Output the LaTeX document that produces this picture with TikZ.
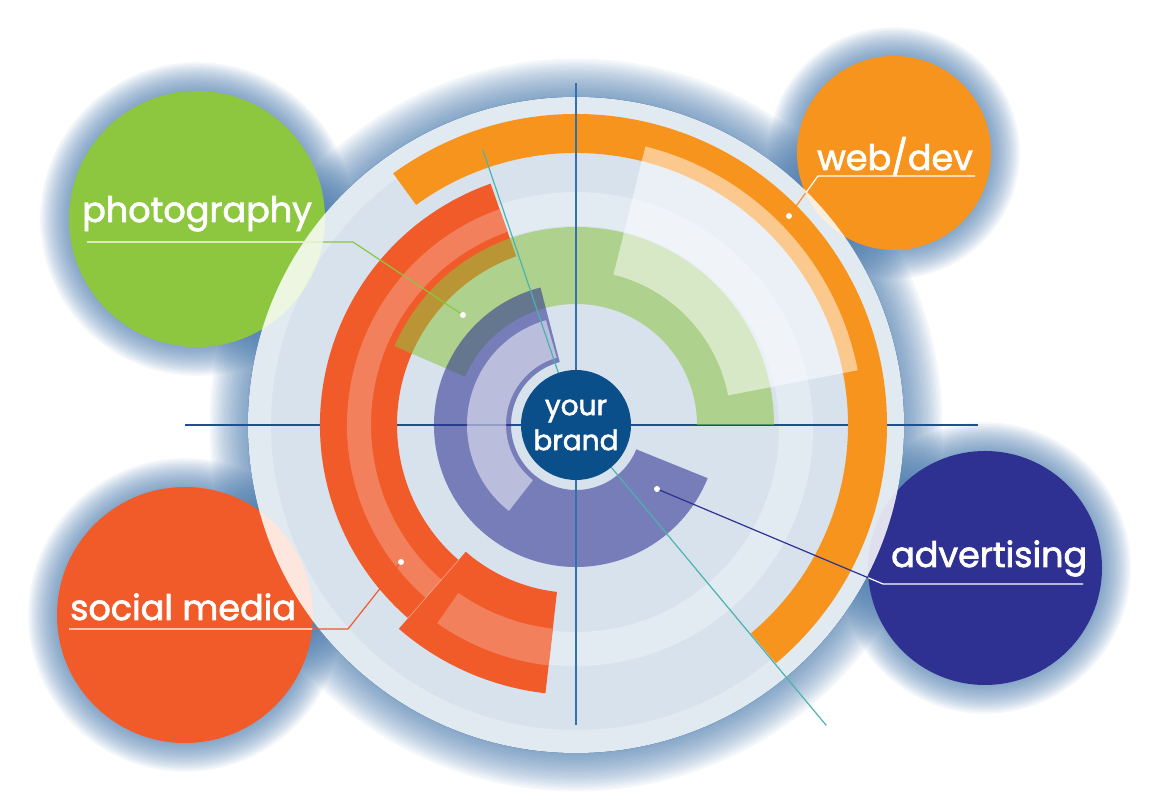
\documentclass[tikz,border=0pt]{standalone}
\usepackage{fontspec}
\setmainfont{Poppins}[BoldFont=Poppins, BoldFeatures={FakeBold=2}]
\usetikzlibrary{calc}

\definecolor{photoc}{HTML}{8DC63F}
\definecolor{webc}{HTML}{F7941D}
\definecolor{adc}{HTML}{2E3192}
\definecolor{socialc}{HTML}{F15A29}
\definecolor{salmonc}{HTML}{F3805C}
\definecolor{brandc}{HTML}{0B4F8A}
\definecolor{glowc}{HTML}{3A6EA5}
\definecolor{vaxisc}{HTML}{3471AC}
\definecolor{haxisc}{HTML}{1F4F8D}
\definecolor{tealc}{HTML}{4AB3B0}

% ring piece round (C): start angle, end angle, inner radius, outer radius
\newcommand\sector[4]{([shift={(C)}]#1:#4) arc[start angle=#1, end angle=#2, radius=#4]
  -- ([shift={(C)}]#2:#3) arc[start angle=#2, end angle=#1, radius=#3] -- cycle}
\newcommand\glow[3]{\foreach \k in {1,...,16}
  \fill[glowc, fill opacity=0.055] (#1) circle[radius=#2+\k*#3];}

\begin{document}
\begin{tikzpicture}[
  x=1pt, y=1pt,
  lbl/.style={text=white, inner sep=0pt, anchor=base west,
    font=\fontsize{35}{40}\selectfont\bfseries},
  link/.style={line width=1.2pt},
]
  \useasboundingbox (0,0) rectangle (1160,810);

  \coordinate (C) at (576,385);
  \coordinate (P) at (197,591);
  \coordinate (W) at (894,657);
  \coordinate (D) at (985,242);
  \coordinate (S) at (185,195);

  % shadows
  \glow{C}{328}{2.4}
  \foreach \c/\r in {P/128, W/97, D/117, S/128} \glow{\c}{\r}{1.8}
  \fill[glowc] (C) circle[radius=328];

  \fill[photoc] (P) circle[radius=128];
  \fill[webc] (W) circle[radius=97];
  \fill[adc] (D) circle[radius=117];
  \fill[socialc] (S) circle[radius=128];

  \fill[white, fill opacity=0.8] (C) circle[radius=328];
  \fill[white, fill opacity=0.28, even odd rule] ($(C)+(0,-4)$) circle[radius=237] circle[radius=203];
  \fill[white, fill opacity=0.25, even odd rule] (C) circle[radius=328] circle[radius=305];

  \draw[haxisc, line width=1.5pt] (185,385) -- (978,385);

  % social media
  \fill[socialc] \sector{109.5}{229}{179}{256};
  \fill[salmonc] \sector{109.5}{229}{205}{229};
  \fill[socialc] \sector{229}{263.5}{168}{270};
  \fill[salmonc] \sector{235}{263.5}{205}{242};
  \draw[white, opacity=0.4, line width=0.6pt] ([shift={(C)}]229:179) -- ([shift={(C)}]229:256);

  % web/dev
  \fill[webc] \sector{-50}{126}{272}{311};
  % photography
  \fill[photoc, fill opacity=0.55] \sector{0}{156.5}{121}{198};
  \fill[white, fill opacity=0.5] \sector{11}{76}{155}{287};
  % advertising
  \fill[adc, fill opacity=0.57] \sector{104.5}{338}{65}{142};
  \fill[white, fill opacity=0.5] \sector{106}{232}{70}{109};

  \draw[tealc, line width=1.2pt] ([shift={(C)}]108.7:55) -- ([shift={(C)}]108.7:290);
  \draw[tealc, line width=1.2pt] ([shift={(C)}]-50.2:55) -- ([shift={(C)}]-50.2:391);

  \draw[vaxisc, line width=1.5pt] (576,727) -- (576,85);

  \fill[brandc] (C) circle[radius=55];
  \node[text=white, align=center, inner sep=0pt, font=\fontsize{28}{35}\selectfont\bfseries]
    (brand) at (C) {your\\brand};

  % labels and their leaders
  \coordinate (P1) at (87,568);   \coordinate (P2) at (353,568);  \coordinate (P3) at (463,495);
  \coordinate (W1) at (975,634);  \coordinate (W2) at (818,634);  \coordinate (W3) at (789,594);
  \coordinate (D1) at (1083,226); \coordinate (D2) at (883,226);  \coordinate (D3) at (657,321);
  \coordinate (S1) at (69,181);   \coordinate (S2) at (348,181);  \coordinate (S3) at (401,248);

  \foreach \n/\col/\r in {P/photoc/128, W/webc/97, D/adc/117, S/socialc/128} {
    \draw[link, \col] (\n1) -- (\n2) -- (\n3);
    \begin{scope}
      \clip (\n) circle[radius=\r];
      \draw[link, white] (\n1) -- (\n2) -- (\n3);
    \end{scope}
    \fill[white] (\n3) circle[radius=3];
  }

  \node[lbl] (photo) at (82,588) {photography};
  \node[lbl] (web) at (817,640) {web/dev};
  \node[lbl] (ad) at (891,243) {advertising};
  \node[lbl] (social) at (70,190) {social media};
\end{tikzpicture}
\end{document}
